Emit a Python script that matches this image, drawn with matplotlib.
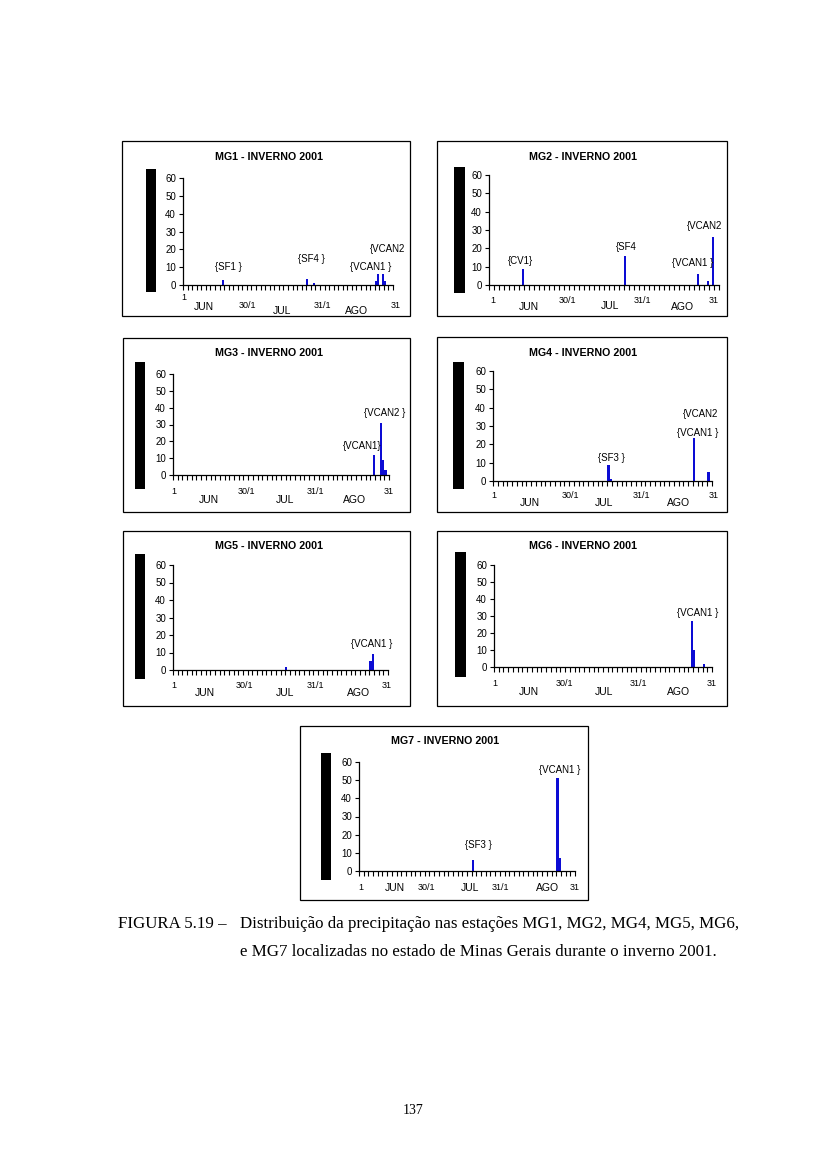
import numpy as np
import matplotlib
matplotlib.use("Agg")
import matplotlib.pyplot as plt
from matplotlib.patches import Rectangle

# precipitation (mm) per day, day 1 = 1 Jun ... day 92 = 31 Ago
mg1_day = [18, 55, 58, 85, 86, 88, 89]
mg1_mm = [3, 3.5, 1, 2, 6, 6, 2]
mg2_day = [14, 55, 84, 88, 90]
mg2_mm = [9, 16, 6, 2, 26]
mg3_day = [86, 89, 90, 91]
mg3_mm = [12, 31, 9, 3]
mg4_day = [49, 50, 85, 91]
mg4_mm = [9, 1, 23.5, 5]
mg5_day = [49, 85, 86]
mg5_mm = [1.5, 5, 9]
mg6_day = [84, 85, 89]
mg6_mm = [27, 10, 1.5]
mg7_day = [49, 85, 86]
mg7_mm = [6, 51, 7]

stations = ["MG1", "MG2", "MG3", "MG4", "MG5", "MG6", "MG7"]
days = [mg1_day, mg2_day, mg3_day, mg4_day, mg5_day, mg6_day, mg7_day]
values = [mg1_mm, mg2_mm, mg3_mm, mg4_mm, mg5_mm, mg6_mm, mg7_mm]
x_labels = ["1", "JUN", "30/1", "JUL", "31/1", "AGO", "31"]
y_ticks = [0, 10, 20, 30, 40, 50, 60]
events = [["{SF1 }", "{SF4 }", "{VCAN1 }", "{VCAN2"],
          ["{CV1}", "{SF4", "{VCAN1 }", "{VCAN2"],
          ["{VCAN2 }", "{VCAN1}"],
          ["{VCAN2", "{VCAN1 }", "{SF3 }"],
          ["{VCAN1 }"],
          ["{VCAN1 }"],
          ["{SF3 }", "{VCAN1 }"]]

# layout in page pixels
W, H = 828, 1169
box = [(122, 141, 410, 316), (437, 141, 727, 316), (123, 338, 410, 512),
       (437, 337, 727, 512), (123, 531, 410, 706), (437, 531, 727, 706),
       (300, 726, 588, 900)]
blk = [(146, 169, 156, 292), (454, 167, 465, 293), (135, 362, 145, 489),
       (453, 362, 464, 489), (135, 554, 145, 679), (455, 552, 466, 677),
       (321, 753, 331, 880)]
axr = [(183, 393, 178, 285), (489, 719, 175, 285), (173, 389, 374, 475),
       (493, 712, 371, 481), (173, 388, 565, 670), (494, 712, 565, 667),
       (359, 575, 762, 871)]
ttl = [(269, 157), (583, 157), (269, 353), (583, 353), (269, 546), (583, 546),
       (445, 741)]
xlab = [[(184, 297), (204, 307), (247, 305), (282, 311), (322, 305), (357, 311), (396, 305)],
        [(493, 301), (529, 307), (567, 301), (610, 306), (642, 301), (683, 307), (714, 301)],
        [(174, 492), (209, 500), (246, 492), (285, 500), (315, 492), (355, 500), (389, 492)],
        [(494, 496), (530, 503), (570, 496), (604, 503), (641, 496), (679, 503), (714, 496)],
        [(174, 686), (205, 693), (244, 685), (285, 693), (315, 685), (359, 693), (387, 685)],
        [(495, 684), (529, 692), (564, 684), (604, 692), (638, 684), (679, 692), (712, 684)],
        [(361, 888), (395, 888), (426, 888), (470, 888), (500, 888), (548, 888), (575, 888)]]
evpos = [[(228, 267), (311, 259), (371, 267), (388, 249)],
         [(521, 261), (626, 247), (693, 263), (705, 226)],
         [(385, 413), (362, 446)],
         [(701, 414), (698, 433), (611, 458)],
         [(372, 644)],
         [(698, 613)],
         [(478, 845), (560, 770)]]


def fx(x):
    return x / W


def fy(y):
    return 1 - y / H


plt.rcParams['font.family'] = ['Liberation Sans', 'DejaVu Sans']
fig = plt.figure(figsize=(8.28, 11.69), dpi=100)

for i, name in enumerate(stations):
    x0, y0, x1, y1 = box[i]
    fig.patches.append(Rectangle((fx(x0), fy(y1)), (x1 - x0) / W, (y1 - y0) / H,
                                 transform=fig.transFigure, fill=False,
                                 edgecolor='black', lw=0.9))
    b0, c0, b1, c1 = blk[i]
    fig.patches.append(Rectangle((fx(b0), fy(c1)), (b1 - b0) / W, (c1 - c0) / H,
                                 transform=fig.transFigure, color='black', lw=0))
    fig.text(fx(ttl[i][0]), fy(ttl[i][1]), name + " - INVERNO 2001",
             ha='center', va='center', fontsize=7.7, fontweight='bold')

    l, r, t, b = axr[i]
    ax = fig.add_axes([fx(l), fy(b), (r - l) / W, (b - t) / H])
    ax.bar(np.array(days[i]) - 0.5, values[i], width=0.95, color='#0c0cd4')
    ax.set_xlim(0, 92)
    ax.set_ylim(0, 60)
    ax.set_yticks(y_ticks)
    ax.set_xticks(np.arange(0, 93, 2))
    ax.set_xticklabels([])
    ax.tick_params(axis='y', length=3, width=0.8, pad=2, labelsize=7)
    ax.tick_params(axis='x', length=3.5, width=0.8)
    for s in ['top', 'right']:
        ax.spines[s].set_visible(False)
    for s in ['left', 'bottom']:
        ax.spines[s].set_linewidth(0.9)
    ax.patch.set_alpha(0)

    for lab, (px, py) in zip(x_labels, xlab[i]):
        fs = 7.5 if lab.isalpha() else 6.5
        fig.text(fx(px), fy(py), lab, ha='center', va='center', fontsize=fs)
    for ev, (px, py) in zip(events[i], evpos[i]):
        fig.text(fx(px), fy(py), ev, ha='center', va='center', fontsize=7)

serif = ['Liberation Serif', 'DejaVu Serif']
fig.text(fx(118), fy(924), "FIGURA 5.19 \u2013", ha='left', va='center',
         fontsize=12.2, family=serif)
fig.text(fx(240), fy(924),
         "Distribui\u00e7\u00e3o da precipita\u00e7\u00e3o nas esta\u00e7\u00f5es MG1, MG2, MG4, MG5, MG6,",
         ha='left', va='center', fontsize=12.2, family=serif)
fig.text(fx(240), fy(952),
         "e MG7 localizadas no estado de Minas Gerais durante o inverno 2001.",
         ha='left', va='center', fontsize=12.2, family=serif)
fig.text(fx(413), fy(1110), "137", ha='center', va='center', fontsize=10,
         family=serif)

fig.savefig("out.png", dpi=100)
